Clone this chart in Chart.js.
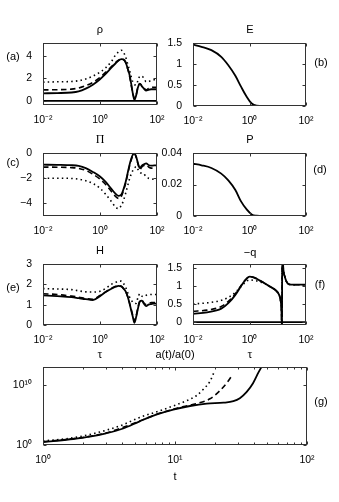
<!DOCTYPE html>
<html><head><meta charset="utf-8">
<script src="https://cdn.jsdelivr.net/npm/chart.js@4.4.1/dist/chart.umd.min.js"></script>
<style>
html,body{margin:0;padding:0;background:#fff;}
#wrap{position:relative;width:339px;height:502px;overflow:hidden;background:#fff;}
canvas{position:absolute;left:0;top:0;}
</style></head><body><div id="wrap"></div>
<script>
// ---------- data ----------
const tauMain = [0.01,0.0316,0.1,0.178,0.316,0.562,1,1.58,2.51,3.55,4.47,5.62,6.61,7.94,9.33,10.7,12.3,14.1,16.2,18.6,21.4,25.1,29.5,34.7,41.7,50.1,63.1,79.4,100];
const rhoSolid  = [0.68,0.70,0.75,0.85,1.1,1.45,1.93,2.4,2.95,3.35,3.6,3.72,3.7,3.45,2.9,2.4,1.6,0.7,0.1,0.5,1.2,1.52,1.3,1.1,0.92,0.98,1.04,1.04,1.04];
const rhoDashed = [0.98,1.0,1.05,1.15,1.35,1.65,2.1,2.55,3.05,3.42,3.62,3.72,3.68,3.4,2.85,2.3,1.5,0.7,0.25,0.55,1.25,1.55,1.35,1.12,1.0,1.1,1.2,1.22,1.22];
const rhoDotted = [1.67,1.7,1.73,1.8,1.95,2.2,2.56,2.95,3.5,4.1,4.35,4.5,4.35,3.9,3.3,2.8,2.2,1.7,1.45,1.43,1.8,2.2,2.2,2.0,1.7,1.72,1.82,1.88,1.88];
const piSolid   = [-0.93,-0.94,-0.97,-1.03,-1.2,-1.5,-1.87,-2.3,-2.85,-3.25,-3.41,-3.3,-2.9,-2.3,-1.6,-1.0,-0.5,-0.15,-0.02,-0.3,-0.8,-1.2,-1.0,-0.9,-0.82,-0.95,-1.0,-0.99,-0.99];
const piDashed  = [-1.12,-1.13,-1.16,-1.22,-1.38,-1.68,-2.08,-2.5,-3.05,-3.45,-3.6,-3.45,-3.0,-2.4,-1.7,-1.1,-0.6,-0.2,-0.05,-0.35,-0.85,-1.3,-1.1,-1.0,-0.95,-1.1,-1.2,-1.2,-1.2];
const piDotted  = [-2.0,-2.0,-2.02,-2.08,-2.2,-2.42,-2.8,-3.28,-3.85,-4.3,-4.42,-4.15,-3.8,-3.2,-2.6,-2.1,-1.7,-1.4,-1.2,-1.07,-1.3,-1.55,-1.6,-1.65,-1.9,-2.0,-2.05,-2.08,-2.08];
const hSolid    = [1.46,1.42,1.37,1.32,1.27,1.23,1.42,1.62,1.78,1.88,1.92,1.9,1.8,1.65,1.4,1.1,0.75,0.42,0.11,0.4,0.8,1.15,1.2,1.05,0.93,1.0,1.03,1.05,1.05];
const hDashed   = [1.54,1.5,1.42,1.37,1.3,1.26,1.45,1.63,1.8,1.9,1.93,1.9,1.8,1.65,1.4,1.12,0.8,0.48,0.2,0.45,0.85,1.18,1.22,1.08,1.0,1.05,1.1,1.1,1.1];
const hDotted   = [1.79,1.77,1.74,1.68,1.63,1.62,1.66,1.8,2.0,2.1,2.15,2.16,2.05,1.85,1.6,1.4,1.25,1.12,1.08,1.06,1.35,1.54,1.42,1.4,1.46,1.48,1.5,1.5,1.5];
const zeroTau   = [0.01,100];
const zeroVals  = [0,0];

const tauQ    = [0.01,0.0316,0.1,0.178,0.316,0.562,0.794,1,1.41,2.51,5.01,8.91,11.2,12.6,13.5,14.1,14.45,15.8,17.8,20.9,25.1,35.5,50.1,100];
const qSolid  = [0.23,0.27,0.37,0.52,0.75,1.05,1.2,1.25,1.23,1.13,0.99,0.86,0.75,0.6,0.35,-0.2,2.0,1.45,1.25,1.1,1.04,1.03,1.03,1.03];
const qDashed = [0.3,0.33,0.43,0.57,0.78,1.06,1.2,1.25,1.23,1.13,0.99,0.86,0.75,0.6,0.35,-0.2,2.0,1.45,1.25,1.1,1.04,1.03,1.03,1.03];
const qDotted = [0.5,0.53,0.6,0.68,0.82,1.02,1.13,1.16,1.15,1.1,0.99,0.86,0.75,0.6,0.35,-0.2,2.0,1.45,1.25,1.1,1.04,1.03,1.03,1.03];

const tauE   = [0.01,0.02,0.0447,0.1,0.178,0.316,0.501,0.794,1.2,1.78,3.16,10,100];
const eSolid = [1.46,1.41,1.33,1.17,0.97,0.72,0.46,0.22,0.06,0.01,0,0,0];
const pSolid = [0.0332,0.0322,0.0305,0.0269,0.0226,0.0165,0.0093,0.0042,0.001,0.0002,0,0,0];
const eZero  = [0,0,0,0,0,0,0,0,0,0,0,0,0];

const tSolid  = [1,1.26,1.69,2.26,3.0,4.05,5.4,7.2,9.7,13,17.4,23.3,27.7,31,34.8,39,42.9,46];
const aSolid  = [3.16,5.0,10,25.1,89,562,8.9e3,1.12e5,7.9e5,3.16e6,7.9e6,1.12e7,2.0e7,6.3e7,6.3e8,2.0e10,1.26e12,2.0e13];
const tDashed = [1,1.69,3.0,5.4,7.2,9.7,11.6,14.6,18.4,22,25.4,27.4];
const aDashed = [3.5,11.2,100,1e4,1.26e5,8.9e5,2.5e6,7.9e6,5e7,1.26e9,5e10,6.3e11];
const tDotted = [1,1.69,2.26,3.0,4.05,5.4,7.2,9.7,12,14.6,16.4,18.4,20];
const aDotted = [4.6,15.8,56,282,2.5e3,4e4,3.2e5,3.2e6,2e7,1.8e8,2e9,4e10,2.5e12];

// ticks and tick labels
const tauTicks = [0.01,1,100];
const tauTickLabels = ['10\u207B\u00B2','10\u2070','10\u00B2'];
const rhoTicks = [0,2,4];            const rhoTickLabels = ['0','2','4'];
const eTicks = [0,0.5,1,1.5];        const eTickLabels = ['0','0.5','1','1.5'];
const piTicks = [-4,-2,0];           const piTickLabels = ['\u22124','\u22122','0'];
const pTicks = [0,0.02,0.04];        const pTickLabels = ['0','0.02','0.04'];
const hTicks = [0,1,2,3];            const hTickLabels = ['0','1','2','3'];
const qTicks = [0,0.5,1,1.5];        const qTickLabels = ['0','0.5','1','1.5'];
const tTicks = [1,2,3,4,5,6,7,8,9,10,20,30,40,50,60,70,80,90,100];
const tTickLabels = ['10\u2070','','','','','','','','','10\u00B9','','','','','','','','','10\u00B2'];
const aTicks = [1,1e10];             const aTickLabels = ['10\u2070','10\u00B9\u2070'];

// ---------- drawing ----------
const W = 339, H = 502, YW = 40, XH = 22;
const SANS = '"Liberation Sans", Arial, sans-serif';
const SERIF = '"Liberation Serif", "Times New Roman", serif';
const TXT = '11px ' + SANS;

const frame = {
  id: 'frame',
  afterDatasetsDraw(chart, args, o) {
    const {ctx, chartArea: a} = chart;
    const xs = chart.scales.x, ys = chart.scales.y;
    ctx.save();
    ctx.strokeStyle = '#333';
    ctx.lineWidth = 1;
    const l = Math.round(a.left) + 0.5, r = Math.round(a.right) - 0.5;
    const t = Math.round(a.top) + 0.5, b = Math.round(a.bottom) - 0.5;
    ctx.strokeRect(l, t, r - l, b - t);
    ctx.beginPath();
    xs.ticks.forEach(tk => {
      const px = Math.round(xs.getPixelForValue(tk.value)) + 0.5;
      const len = tk.label ? 3 : 2;
      ctx.moveTo(px, b); ctx.lineTo(px, b - len);
      ctx.moveTo(px, t); ctx.lineTo(px, t + len);
    });
    ys.ticks.forEach(tk => {
      const py = Math.round(ys.getPixelForValue(tk.value)) + 0.5;
      ctx.moveTo(l, py); ctx.lineTo(l + 3, py);
      ctx.moveTo(r, py); ctx.lineTo(r - 3, py);
    });
    ctx.stroke();
    ctx.fillStyle = '#000';
    ctx.textAlign = 'center';
    ctx.textBaseline = 'middle';
    (o.texts || []).forEach(tx => {
      ctx.font = tx.f || TXT;
      ctx.fillText(tx.s, tx.x, tx.y);
    });
    ctx.restore();
  }
};

function pts(xs, ys) { return xs.map((v, i) => ({x: v, y: ys[i]})); }
function line(xs, ys, style) {
  const d = {data: pts(xs, ys), borderColor: '#000', borderWidth: 1.8, pointRadius: 0,
             fill: false, cubicInterpolationMode: 'monotone'};
  if (style === 'dash') { d.borderDash = [5.5, 3.5]; d.borderWidth = 1.6; }
  if (style === 'dot') { d.borderDash = [1.5, 3.2]; d.borderWidth = 1.6; }
  return d;
}
function axis(type, min, max, ticks, labels, pos) {
  const horiz = pos === 'bottom';
  return {
    type, min, max, position: pos,
    grid: {display: false}, border: {display: false},
    ticks: {color: '#000', font: {size: 10.5, family: SANS}, padding: horiz ? 1 : 3,
            autoSkip: false, maxRotation: 0, minRotation: 0,
            callback: (v, i) => labels[i]},
    afterBuildTicks: s => { s.ticks = ticks.map(v => ({value: v})); },
    afterFit: s => {
      if (horiz) s.height = XH; else s.width = YW;
      s.paddingLeft = 0; s.paddingRight = 0; s.paddingTop = 0; s.paddingBottom = 0;
    }
  };
}
function makeChart(box, xAx, yAx, datasets, texts) {
  const c = document.createElement('canvas');
  c.width = W; c.height = H; c.style.width = W + 'px'; c.style.height = H + 'px';
  document.getElementById('wrap').appendChild(c);
  new Chart(c, {
    type: 'line',
    data: {datasets},
    options: {
      responsive: false, animation: false, devicePixelRatio: 1, events: [],
      layout: {padding: {left: box.L - YW, right: W - box.R, top: box.T, bottom: H - box.B - XH}},
      plugins: {legend: {display: false}, tooltip: {enabled: false}, frame: {texts}},
      scales: {x: xAx, y: yAx}
    },
    plugins: [frame]
  });
}
const tauAxis = () => axis('logarithmic', 0.01, 100, tauTicks, tauTickLabels, 'bottom');

// (a) rho
makeChart({L: 43, R: 157, T: 43, B: 105}, tauAxis(),
  axis('linear', -0.36, 5.15, rhoTicks, rhoTickLabels, 'left'),
  [line(zeroTau, zeroVals, 'solid'), line(tauMain, rhoSolid, 'solid'), line(tauMain, rhoDashed, 'dash'), line(tauMain, rhoDotted, 'dot')],
  [{s: '\u03C1', x: 100, y: 30}, {s: '(a)', x: 13, y: 57}]);
// (b) E
makeChart({L: 193, R: 306, T: 43, B: 106}, tauAxis(),
  axis('linear', 0, 1.5, eTicks, eTickLabels, 'left'),
  [line(tauE, eSolid, 'solid'), line(tauE, eZero, 'dash'), line(tauE, eZero, 'dot')],
  [{s: 'E', x: 250, y: 30}, {s: '(b)', x: 321, y: 63}]);
// (c) Pi
makeChart({L: 43, R: 157, T: 153, B: 216}, tauAxis(),
  axis('linear', -5, 0, piTicks, piTickLabels, 'left'),
  [line(tauMain, piSolid, 'solid'), line(tauMain, piDashed, 'dash'), line(tauMain, piDotted, 'dot')],
  [{s: '\u03A0', x: 100, y: 140, f: '12px ' + SERIF}, {s: '(c)', x: 13, y: 163}]);
// (d) P
makeChart({L: 193, R: 306, T: 153, B: 216}, tauAxis(),
  axis('linear', 0, 0.04, pTicks, pTickLabels, 'left'),
  [line(tauE, pSolid, 'solid'), line(tauE, eZero, 'dash'), line(tauE, eZero, 'dot')],
  [{s: 'P', x: 250, y: 140}, {s: '(d)', x: 320, y: 170}]);
// (e) H
makeChart({L: 43, R: 157, T: 264, B: 325}, tauAxis(),
  axis('linear', 0, 3, hTicks, hTickLabels, 'left'),
  [line(tauMain, hSolid, 'solid'), line(tauMain, hDashed, 'dash'), line(tauMain, hDotted, 'dot')],
  [{s: 'H', x: 100, y: 251}, {s: '(e)', x: 13, y: 288}, {s: '\u03C4', x: 100, y: 355, f: '12px ' + SERIF}]);
// (f) -q
makeChart({L: 193, R: 306, T: 264, B: 325}, tauAxis(),
  axis('linear', -0.08, 1.6, qTicks, qTickLabels, 'left'),
  [line(zeroTau, zeroVals, 'solid'), line(tauQ, qSolid, 'solid'), line(tauQ, qDashed, 'dash'), line(tauQ, qDotted, 'dot')],
  [{s: '\u2212q', x: 250, y: 253}, {s: '(f)', x: 320, y: 285}, {s: '\u03C4', x: 250, y: 355, f: '12px ' + SERIF}]);
// (g) a(t)/a(0)
makeChart({L: 43, R: 307, T: 367, B: 445},
  axis('logarithmic', 1, 100, tTicks, tTickLabels, 'bottom'),
  axis('logarithmic', 1, 1e13, aTicks, aTickLabels, 'left'),
  [line(tSolid, aSolid, 'solid'), line(tDashed, aDashed, 'dash'), line(tDotted, aDotted, 'dot')],
  [{s: 'a(t)/a(0)', x: 175, y: 355}, {s: '(g)', x: 321, y: 402}, {s: 't', x: 175, y: 477}]);
</script></body></html>
